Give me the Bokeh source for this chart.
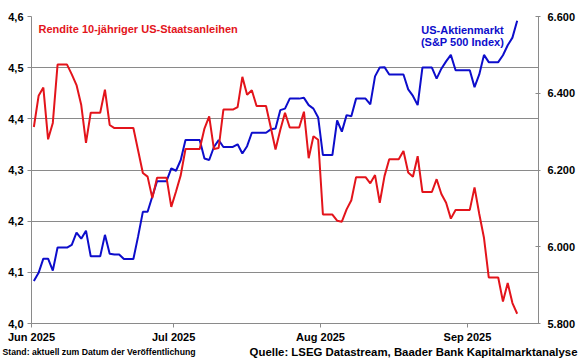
import pandas as pd
from bokeh.plotting import figure
from bokeh.layouts import column
from bokeh.models import (Range1d, LinearAxis, FixedTicker, DatetimeTickFormatter,
                          Label, ColumnDataSource)
from bokeh.embed import file_html
from bokeh.resources import INLINE

# ---------------- data (daily, weekends carried forward) ----------------
dates = pd.date_range("2025-06-01", "2025-09-11", freq="D")

yield_10y = [
    # June
    4.384, 4.445, 4.461, 4.360, 4.392, 4.506, 4.506, 4.506, 4.487, 4.466,
    4.427, 4.353, 4.412, 4.412, 4.412, 4.457, 4.388, 4.382, 4.382, 4.382,
    4.382, 4.382, 4.338, 4.294, 4.287, 4.245, 4.285, 4.285, 4.285, 4.228,
    # July
    4.258, 4.290, 4.341, 4.341, 4.341, 4.341, 4.381, 4.405, 4.341, 4.343,
    4.418, 4.418, 4.418, 4.423, 4.482, 4.447, 4.456, 4.425, 4.425, 4.425,
    4.383, 4.340, 4.378, 4.412, 4.383, 4.383, 4.383, 4.414, 4.323, 4.366,
    4.359,
    # August
    4.213, 4.213, 4.213, 4.201, 4.199, 4.223, 4.241, 4.286, 4.286, 4.286,
    4.274, 4.290, 4.236, 4.288, 4.321, 4.321, 4.321, 4.337, 4.295, 4.287,
    4.327, 4.257, 4.257, 4.257, 4.282, 4.253, 4.236, 4.205, 4.222, 4.222,
    4.222,
    # September
    4.222, 4.266, 4.214, 4.167, 4.090, 4.090, 4.090, 4.043, 4.079, 4.040,
    4.019,
]

sp500 = [
    # June
    5911, 5932, 5969, 5969, 5938, 5998, 5998, 5998, 6005, 6037,
    6021, 6042, 5975, 5975, 5975, 6031, 5982, 5980, 5980, 5968,
    5968, 5968, 6027, 6091, 6091, 6131, 6171, 6171, 6171, 6204,
    # July
    6198, 6226, 6278, 6278, 6278, 6278, 6230, 6226, 6260, 6278,
    6260, 6260, 6260, 6267, 6243, 6262, 6297, 6297, 6297, 6297,
    6306, 6308, 6356, 6360, 6386, 6386, 6386, 6388, 6369, 6360,
    6337,
    # August
    6239, 6239, 6239, 6329, 6300, 6343, 6340, 6386, 6386, 6386,
    6371, 6444, 6467, 6468, 6449, 6449, 6449, 6449, 6410, 6393,
    6369, 6467, 6467, 6467, 6438, 6464, 6483, 6500, 6460, 6460,
    6460,
    # September
    6460, 6416, 6449, 6500, 6481, 6481, 6481, 6499, 6525, 6545,
    6589,
]

left_ticks = [4.0, 4.1, 4.2, 4.3, 4.4, 4.5, 4.6]
left_labels = ["4,0", "4,1", "4,2", "4,3", "4,4", "4,5", "4,6"]
right_ticks = [5800, 6000, 6200, 6400, 6600]
right_labels = ["5.800", "6.000", "6.200", "6.400", "6.600"]
month_ticks = ["2025-06-01", "2025-07-01", "2025-08-01", "2025-09-01"]

title_text = "Rendite 10-jähriger US-Staatsanleihen"
legend_line1 = "US-Aktienmarkt"
legend_line2 = "(S&P 500 Index)"
footer_left = "Stand: aktuell zum Datum der Veröffentlichung"
footer_right = "Quelle: LSEG Datastream, Baader Bank Kapitalmarktanalyse"

RED = "#E3141B"
BLUE = "#0D0DCB"
GRID = "#8A8A8A"
FONT = "Liberation Sans"

# ---------------- main figure ----------------
def ms(d):
    return pd.Timestamp(d).value // 10**6

x_start = pd.Timestamp("2025-06-01")
x_end = pd.Timestamp("2025-09-16")

p = figure(width=580, height=345, x_axis_type="datetime",
           x_range=Range1d(x_start, x_end), y_range=Range1d(4.0, 4.6),
           output_backend="svg", toolbar_location=None,
           min_border_left=31, min_border_right=42,
           min_border_top=16, min_border_bottom=21)
p.frame_align = False
p.outline_line_color = None
p.background_fill_color = "white"
p.border_fill_color = "white"
p.extra_y_ranges = {"spx": Range1d(5800, 6600)}

src = ColumnDataSource(dict(x=dates + pd.Timedelta(hours=12),
                            y=yield_10y, s=sp500))

p.line("x", "s", source=src, y_range_name="spx", color=BLUE, line_width=2)
p.line("x", "y", source=src, color=RED, line_width=2)

# grid
p.xgrid.visible = False
p.ygrid.ticker = FixedTicker(ticks=left_ticks)
p.ygrid.grid_line_color = GRID
p.ygrid.grid_line_width = 1

# left axis
ya = p.yaxis[0]
ya.ticker = FixedTicker(ticks=left_ticks)
ya.major_label_overrides = dict(zip(left_ticks, left_labels))
ya.axis_line_color = GRID
ya.major_tick_line_color = GRID
ya.major_tick_in = 0
ya.major_tick_out = 4
ya.minor_tick_line_color = None
ya.major_label_standoff = 4
ya.major_label_text_font = FONT
ya.major_label_text_font_style = "bold"
ya.major_label_text_font_size = "11px"
ya.major_label_text_color = "black"

# right axis
ra = LinearAxis(y_range_name="spx")
ra.ticker = FixedTicker(ticks=right_ticks)
ra.major_label_overrides = dict(zip(right_ticks, right_labels))
ra.axis_line_color = GRID
ra.major_tick_line_color = GRID
ra.major_tick_in = 3
ra.major_tick_out = 2
ra.minor_tick_line_color = None
ra.major_label_standoff = 7
ra.major_label_text_font = FONT
ra.major_label_text_font_style = "bold"
ra.major_label_text_font_size = "11px"
ra.major_label_text_color = "black"
p.add_layout(ra, "right")

# bottom axis
xa = p.xaxis[0]
xa.ticker = FixedTicker(ticks=[ms(d) for d in month_ticks])
fmt = "%b %Y"
xa.formatter = DatetimeTickFormatter(milliseconds=fmt, seconds=fmt, minsec=fmt,
                                     minutes=fmt, hourmin=fmt, hours=fmt,
                                     days=fmt, months=fmt, years=fmt)
xa.axis_line_color = GRID
xa.major_tick_line_color = GRID
xa.major_tick_in = 0
xa.major_tick_out = 4
xa.minor_tick_line_color = None
xa.major_label_standoff = 3
xa.major_label_text_font = FONT
xa.major_label_text_font_style = "bold"
xa.major_label_text_font_size = "11px"
xa.major_label_text_color = "black"

# texts inside the plot (screen units relative to the plot frame)
def lab(fig, text, x, y, color, size, align="left", units="screen"):
    fig.add_layout(Label(text=text, x=x, y=y, x_units=units, y_units=units,
                         text_color=color, text_font=FONT, text_font_style="bold",
                         text_font_size=size, text_align=align,
                         text_baseline="alphabetic"))

lab(p, title_text, 7, 295, RED, "11px")
lab(p, legend_line1, 431, 294, BLUE, "11px", "center")
lab(p, legend_line2, 431, 282, BLUE, "11px", "center")

# ---------------- footer strip ----------------
f = figure(width=580, height=14, x_range=Range1d(0, 580), y_range=Range1d(0, 14),
           x_axis_location=None, y_axis_location=None, min_border=0,
           output_backend="svg", toolbar_location=None)
f.frame_align = False
f.outline_line_color = None
f.background_fill_color = "white"
f.border_fill_color = "white"
f.grid.visible = False
lab(f, footer_left, 2, 7.5, "black", "8.7px", "left", "data")
lab(f, footer_right, 577, 7.5, "black", "11.4px", "right", "data")

open("out.html", "w").write(file_html(column(p, f, spacing=0), INLINE))
